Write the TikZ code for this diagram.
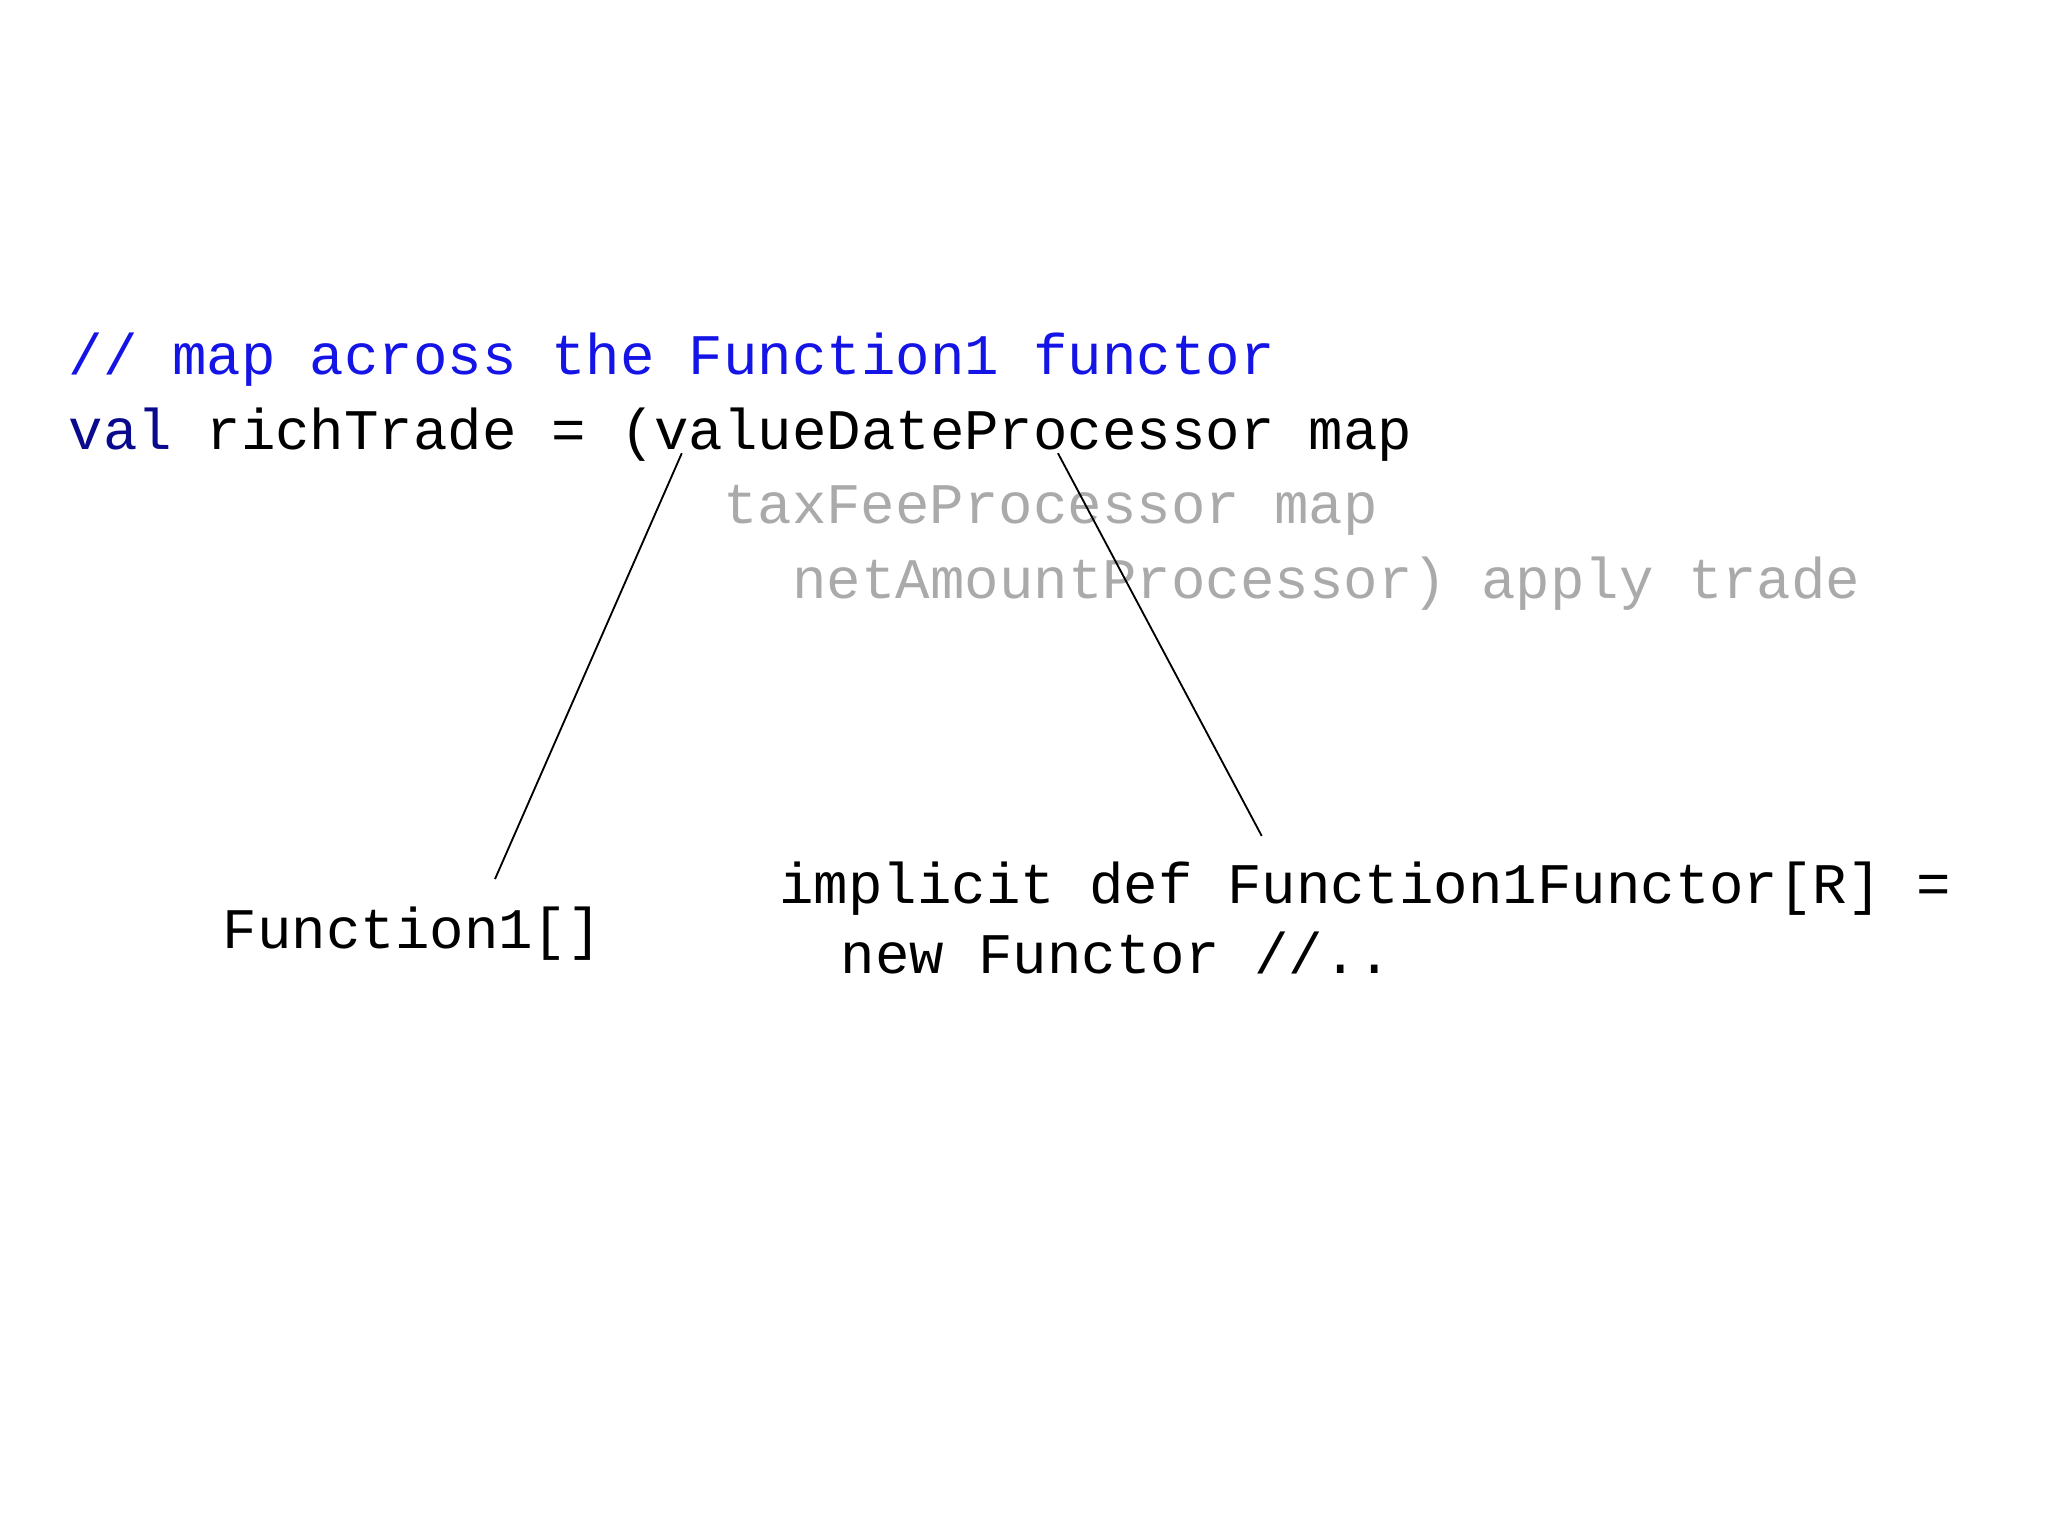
\documentclass[tikz,border=0pt]{standalone}
\usepackage{fontspec}
\setmonofont{Liberation Mono}
\definecolor{cblue}{RGB}{20,20,230}
\definecolor{cnavy}{RGB}{10,10,140}
\definecolor{cgray}{RGB}{170,170,170}
\begin{document}
\begin{tikzpicture}[x=0.01cm,y=-0.01cm,
  code/.style={anchor=base west,inner sep=0,font=\ttfamily\fontsize{12.5pt}{15pt}\selectfont}]
\useasboundingbox (0,0) rectangle (1568,1176);
\node[code,text=cblue] (l1) at (52,287) {// map across the Function1 functor};
\node[code] (l2) at (52,344) {\textcolor{cnavy}{val} richTrade = (valueDateProcessor map};
\node[code,text=cgray] (l3) at (553,401) {taxFeeProcessor map};
\node[code,text=cgray] (l4) at (606,458) {netAmountProcessor) apply trade};
\node[code] (f1) at (170,726) {Function1[]};
\node[code] (i1) at (596,692) {implicit def Function1Functor[R] =};
\node[code] (i2) at (643,745) {new Functor //..};
\coordinate (a1) at (522,347); \coordinate (a2) at (379,673);
\coordinate (b1) at (810,347); \coordinate (b2) at (966,640);
\draw[line width=0.4pt] (a1) -- (a2);
\draw[line width=0.4pt] (b1) -- (b2);
\end{tikzpicture}
\end{document}
